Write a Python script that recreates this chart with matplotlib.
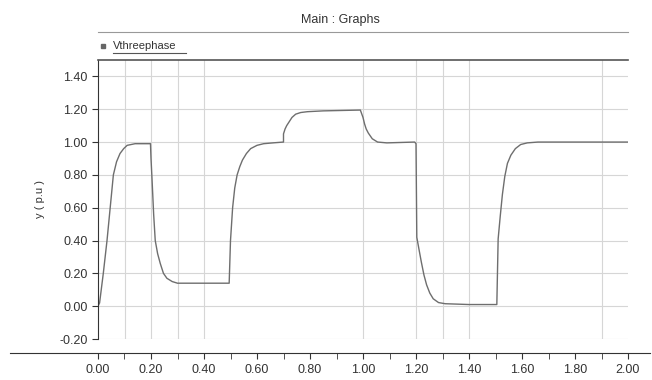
import matplotlib
matplotlib.use("Agg")
import matplotlib.pyplot as plt
from matplotlib.lines import Line2D
from matplotlib.ticker import FixedLocator, FormatStrFormatter

# values (time in s, voltage in p.u.)
t = [0.000, 0.006, 0.020, 0.034, 0.046, 0.058, 0.070, 0.083, 0.097, 0.110, 0.140, 0.198,
     0.200, 0.204, 0.210, 0.216, 0.225, 0.235, 0.247, 0.260, 0.280, 0.300, 0.400, 0.495,
     0.500, 0.508, 0.516, 0.525, 0.535, 0.545, 0.560, 0.576, 0.600, 0.625, 0.660, 0.700,
     0.700, 0.706, 0.712, 0.720, 0.732, 0.746, 0.765, 0.790, 0.850, 0.990,
     1.000, 1.006, 1.012, 1.020, 1.035, 1.055, 1.090, 1.195,
     1.200, 1.203, 1.212, 1.220, 1.230, 1.240, 1.252, 1.265, 1.285, 1.310, 1.400, 1.505,
     1.510, 1.518, 1.526, 1.535, 1.545, 1.558, 1.575, 1.595, 1.620, 1.660, 2.000]
v = [0.00, 0.02, 0.20, 0.40, 0.60, 0.80, 0.88, 0.93, 0.96, 0.98, 0.99, 0.99,
     0.90, 0.77, 0.56, 0.40, 0.32, 0.26, 0.20, 0.17, 0.15, 0.14, 0.14, 0.14,
     0.40, 0.60, 0.72, 0.80, 0.85, 0.89, 0.93, 0.96, 0.98, 0.99, 0.995, 1.00,
     1.05, 1.08, 1.10, 1.12, 1.15, 1.17, 1.18, 1.185, 1.19, 1.195,
     1.15, 1.11, 1.08, 1.055, 1.02, 1.00, 0.995, 1.00,
     0.99, 0.42, 0.34, 0.27, 0.19, 0.13, 0.08, 0.045, 0.022, 0.015, 0.01, 0.01,
     0.41, 0.55, 0.68, 0.79, 0.87, 0.92, 0.96, 0.985, 0.995, 1.00, 1.00]

y_ticks = [-0.2, 0.0, 0.2, 0.4, 0.6, 0.8, 1.0, 1.2, 1.4]
x_labels = [0.2 * i for i in range(11)]
x_minor = [0.1 + 0.2 * i for i in range(10)]
x_grid = [0.1, 0.2, 0.3, 0.4, 1.0, 1.2, 1.3, 1.4, 1.9]

plt.rcParams['font.family'] = ['Liberation Sans', 'DejaVu Sans']

W, H = 652, 380
fig = plt.figure(figsize=(W / 100, H / 100), dpi=100)

# main plot area
ax = fig.add_axes([98 / W, 1 - 339 / H, 530 / W, 279 / H])
ax.plot(t, v, color='#6e6e6e', lw=1.0)
ax.set_xlim(0, 2.0)
ax.set_ylim(-0.2, 1.5)
ax.set_yticks(y_ticks)
ax.yaxis.set_major_formatter(FormatStrFormatter('%.2f'))
ax.tick_params(axis='y', direction='out', length=4, labelsize=9, colors='#333333')
ax.set_xticks([])
for y in y_ticks:
    ax.axhline(y, color='#d6d6d6', lw=0.8, zorder=0)
for x in x_grid:
    ax.axvline(x, color='#d6d6d6', lw=0.8, zorder=0)
ax.spines['right'].set_visible(False)
ax.spines['bottom'].set_visible(False)
ax.spines['top'].set_color('#555555')
ax.spines['top'].set_linewidth(1.2)
ax.spines['left'].set_color('#333333')
ax.set_ylabel('y ( p.u )', fontsize=8, color='#333333', labelpad=10)

# separate x axis strip below the plot
axx = fig.add_axes([10 / W, 1 - 353 / H, 640 / W, 0.001])
axx.set_xlim((10 - 98) / 265.0, (650 - 98) / 265.0)
axx.set_yticks([])
for s in ['top', 'left', 'right']:
    axx.spines[s].set_visible(False)
axx.spines['bottom'].set_color('#333333')
axx.set_xticks(x_labels)
axx.xaxis.set_major_formatter(FormatStrFormatter('%.2f'))
axx.xaxis.set_minor_locator(FixedLocator(x_minor))
axx.tick_params(axis='x', which='major', direction='out', length=4, labelsize=9, colors='#333333', pad=4)
axx.tick_params(axis='x', which='minor', direction='out', length=4, colors='#333333')

# title, header line and legend
fig.text(340 / W, 1 - 20 / H, 'Main : Graphs', ha='center', va='center', fontsize=9, color='#333333')
fig.add_artist(Line2D([98 / W, 628 / W], [1 - 32 / H] * 2, color='#999999', lw=0.8))
fig.add_artist(Line2D([103 / W], [1 - 46 / H], marker='s', markersize=3, color='#666666', ls='none'))
fig.text(113 / W, 1 - 46 / H, 'Vthreephase', ha='left', va='center', fontsize=8, color='#333333')
fig.add_artist(Line2D([113 / W, 186 / W], [1 - 53 / H] * 2, color='#555555', lw=0.8))

fig.savefig('out.png', dpi=100)
